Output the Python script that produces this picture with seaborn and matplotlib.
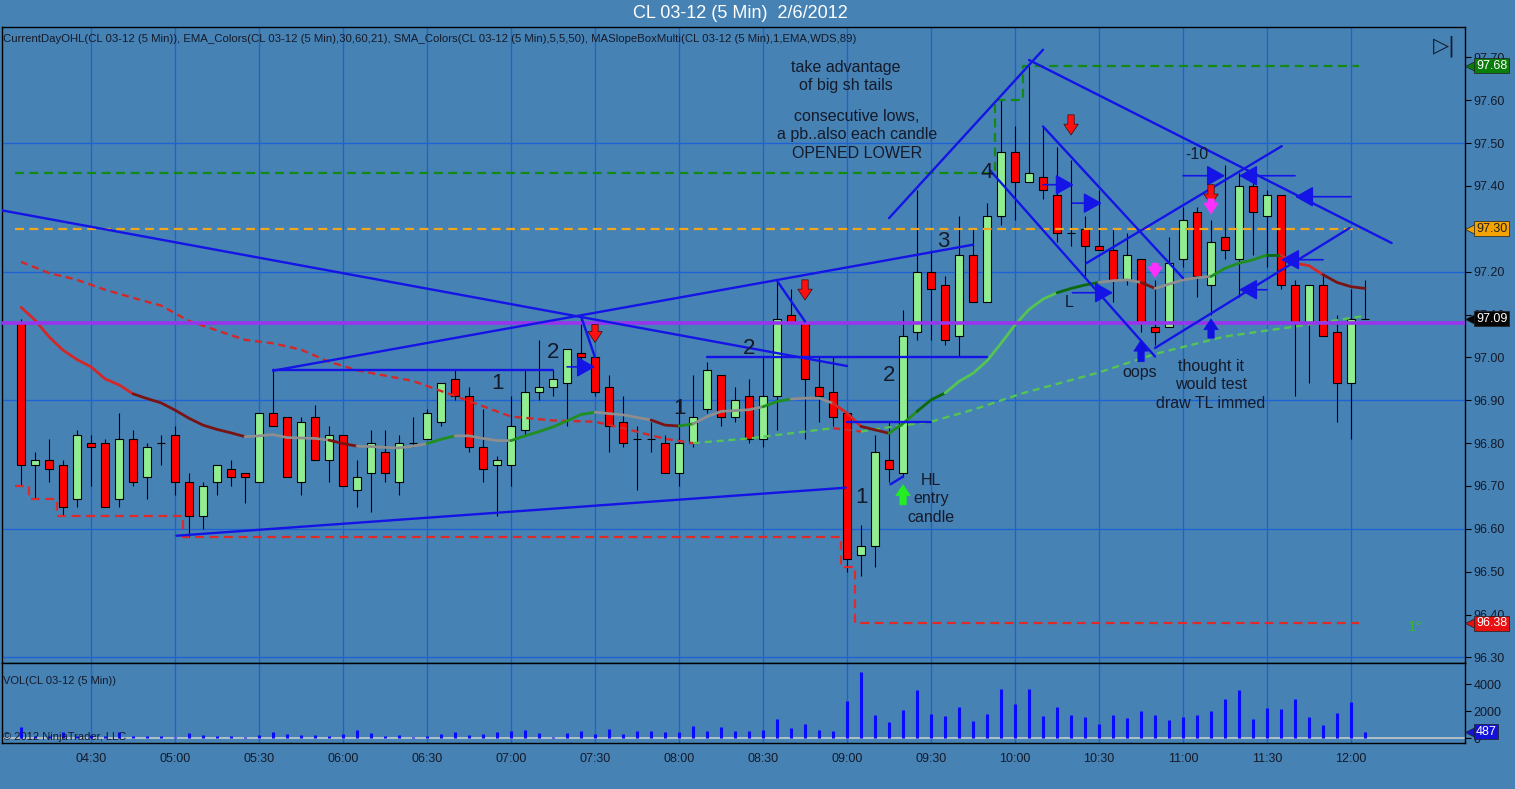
import numpy as np
import pandas as pd
import matplotlib
matplotlib.use('Agg')
import matplotlib.pyplot as plt
import matplotlib.transforms as mtransforms
import seaborn as sns

# CL 03-12, 5 minute bars on 2/6/2012, bar 0 = 04:05
opens = [97.08, 96.75, 96.76, 96.75, 96.67, 96.80, 96.80, 96.67, 96.81, 96.72,
         96.80, 96.82, 96.71, 96.63, 96.71, 96.74, 96.73, 96.71, 96.87, 96.86,
         96.71, 96.86, 96.76, 96.82, 96.69, 96.73, 96.78, 96.71, 96.80, 96.81,
         96.85, 96.95, 96.91, 96.79, 96.75, 96.75, 96.83, 96.92, 96.93, 96.94,
         97.01, 97.00, 96.93, 96.85, 96.81, 96.81, 96.80, 96.73, 96.80, 96.88,
         96.96, 96.86, 96.91, 96.81, 96.91, 97.10, 97.08, 96.93, 96.92, 96.87,
         96.54, 96.56, 96.76, 96.73, 97.06, 97.20, 97.17, 97.05, 97.24, 97.13,
         97.33, 97.48, 97.41, 97.42, 97.38, 97.29, 97.30, 97.26, 97.25, 97.18,
         97.23, 97.07, 97.07, 97.23, 97.34, 97.17, 97.28, 97.23, 97.40, 97.33,
         97.38, 97.17, 97.08, 97.17, 97.06, 96.94, 97.09]
highs = [97.09, 96.78, 96.81, 96.76, 96.83, 96.82, 96.81, 96.87, 96.83, 96.80,
         96.82, 96.84, 96.73, 96.71, 96.75, 96.76, 96.73, 96.87, 96.97, 96.86,
         96.86, 96.89, 96.84, 96.82, 96.76, 96.83, 96.83, 96.82, 96.86, 96.88,
         96.94, 96.97, 96.93, 96.88, 96.77, 96.91, 96.97, 97.04, 96.97, 97.02,
         97.10, 97.00, 96.96, 96.91, 96.84, 96.85, 96.82, 96.90, 96.96, 96.99,
         96.96, 96.93, 96.95, 97.00, 97.18, 97.16, 97.08, 97.00, 97.00, 96.87,
         96.61, 96.82, 96.85, 97.11, 97.39, 97.25, 97.19, 97.33, 97.30, 97.36,
         97.60, 97.54, 97.68, 97.54, 97.49, 97.46, 97.33, 97.39, 97.30, 97.29,
         97.23, 97.18, 97.28, 97.35, 97.35, 97.32, 97.45, 97.43, 97.42, 97.39,
         97.38, 97.18, 97.17, 97.19, 97.10, 97.16, 97.18]
lows = [96.70, 96.67, 96.71, 96.63, 96.65, 96.70, 96.65, 96.65, 96.70, 96.67,
        96.75, 96.68, 96.58, 96.60, 96.68, 96.70, 96.66, 96.71, 96.84, 96.72,
        96.68, 96.76, 96.71, 96.70, 96.65, 96.64, 96.71, 96.68, 96.79, 96.81,
        96.84, 96.90, 96.78, 96.71, 96.63, 96.70, 96.82, 96.90, 96.91, 96.84,
        96.97, 96.91, 96.78, 96.79, 96.69, 96.78, 96.73, 96.70, 96.79, 96.87,
        96.84, 96.85, 96.80, 96.79, 96.83, 97.08, 96.81, 96.85, 96.84, 96.50,
        96.49, 96.51, 96.71, 96.72, 97.04, 97.04, 97.03, 97.00, 97.13, 97.13,
        97.31, 97.32, 97.41, 97.37, 97.27, 97.26, 97.19, 97.25, 97.13, 97.17,
        97.06, 97.03, 97.07, 97.21, 97.14, 97.10, 97.23, 97.14, 97.24, 97.21,
        97.16, 96.91, 96.94, 97.05, 96.85, 96.81, 97.09]
closes = [96.75, 96.76, 96.74, 96.65, 96.82, 96.79, 96.65, 96.81, 96.71, 96.79,
          96.80, 96.71, 96.63, 96.70, 96.75, 96.72, 96.72, 96.87, 96.84, 96.72,
          96.85, 96.76, 96.82, 96.70, 96.72, 96.80, 96.73, 96.80, 96.80, 96.87,
          96.94, 96.91, 96.79, 96.74, 96.76, 96.84, 96.92, 96.93, 96.95, 97.02,
          97.00, 96.92, 96.84, 96.80, 96.81, 96.81, 96.73, 96.80, 96.86, 96.97,
          96.86, 96.90, 96.81, 96.91, 97.09, 97.08, 96.95, 96.91, 96.86, 96.53,
          96.56, 96.78, 96.74, 97.05, 97.20, 97.16, 97.04, 97.24, 97.13, 97.33,
          97.48, 97.41, 97.43, 97.39, 97.29, 97.29, 97.26, 97.25, 97.18, 97.24,
          97.08, 97.06, 97.22, 97.32, 97.19, 97.27, 97.25, 97.40, 97.34, 97.38,
          97.17, 97.08, 97.17, 97.05, 96.94, 97.09, 97.09]
volumes = [860, 150, 200, 450, 200, 250, 150, 440, 170, 170,
           170, 120, 400, 250, 170, 170, 100, 250, 440, 350,
           250, 250, 170, 300, 590, 420, 170, 250, 100, 150,
           350, 490, 250, 350, 490, 540, 640, 420, 100, 400,
           540, 300, 720, 350, 540, 540, 490, 490, 910, 560,
           840, 570, 570, 610, 1410, 780, 1050, 610, 540, 2760,
           4880, 1710, 1220, 2070, 3560, 1780, 1630, 2320, 1290, 1780,
           3630, 2510, 3630, 1630, 2320, 1710, 1560, 1050, 1710, 1510,
           2000, 1710, 1340, 1560, 1710, 2000, 2900, 3560, 1410, 2240,
           2150, 2900, 1560, 980, 1850, 2660, 487]

tick_bars = [5, 11, 17, 23, 29, 35, 41, 47, 53, 59, 65, 71, 77, 83, 89, 95]
tick_labels = ['04:30', '05:00', '05:30', '06:00', '06:30', '07:00', '07:30', '08:00',
               '08:30', '09:00', '09:30', '10:00', '10:30', '11:00', '11:30', '12:00']

# EMA (solid, slope coloured)
ema_vals = [97.117, 97.087, 97.048, 97.017, 96.995, 96.978, 96.950, 96.936, 96.915, 96.904,
            96.894, 96.877, 96.858, 96.842, 96.832, 96.824, 96.815, 96.817, 96.820, 96.813,
            96.812, 96.811, 96.807, 96.799, 96.793, 96.792, 96.790, 96.789, 96.793, 96.799,
            96.809, 96.817, 96.817, 96.811, 96.806, 96.806, 96.817, 96.827, 96.838, 96.852,
            96.867, 96.872, 96.869, 96.866, 96.860, 96.854, 96.842, 96.840, 96.845, 96.862,
            96.874, 96.876, 96.878, 96.885, 96.897, 96.903, 96.905, 96.905, 96.893, 96.870,
            96.839, 96.831, 96.823, 96.846, 96.874, 96.901, 96.917, 96.944, 96.963, 96.992,
            97.033, 97.076, 97.112, 97.136, 97.151, 97.161, 97.169, 97.175, 97.179, 97.181,
            97.175, 97.161, 97.171, 97.181, 97.186, 97.189, 97.208, 97.220, 97.228, 97.239,
            97.239, 97.220, 97.214, 97.193, 97.175, 97.165, 97.161]
ema_seg_start = [0, 8, 16, 22, 24, 29, 31, 35, 41, 45, 47, 48, 53, 55, 58, 60, 62, 64,
                 66, 74, 77, 80, 81, 85, 89, 90, 93]
ema_seg_color = ['red', 'dred', 'gray', 'dred', 'gray', 'green', 'gray', 'green', 'gray',
                 'dred', 'green', 'gray', 'green', 'gray', 'red', 'dred', 'green', 'dgreen',
                 'lgreen', 'dgreen', 'gray', 'dred', 'gray', 'green', 'dgreen', 'red', 'dred']

# SMA (dashed)
sma_bars = [0, 2, 4, 6, 8, 10, 12, 16, 18, 20, 22, 24, 28, 31, 35, 38, 41, 43, 46, 48,
            52, 55, 58, 60, 62, 65, 68, 71.5, 77, 81, 86, 91, 96]
sma_vals = [97.223, 97.197, 97.181, 97.158, 97.139, 97.121, 97.085, 97.041, 97.033, 97.018,
            96.990, 96.970, 96.945, 96.910, 96.862, 96.853, 96.850, 96.835, 96.810, 96.800,
            96.811, 96.823, 96.835, 96.827, 96.837, 96.850, 96.878, 96.916, 96.965, 97.008,
            97.049, 97.072, 97.097]
sma_seg_start = [0, 48, 58, 60]
sma_seg_color = ['red', 'lgreen', 'red', 'lgreen']

# current day open / high / low
day_open = 97.30
hod_levels = [97.43, 97.60, 97.68]
hod_start = [0, 70, 72]
lod_levels = [96.70, 96.67, 96.63, 96.58, 96.51, 96.38]
lod_start = [0, 1, 3, 12, 59, 60]
last_line = 97.08

# hand drawn trend lines (bar, price) -> (bar, price)
tl_x0 = [-1.5, 18, 18, 11.1, 40, 54, 49, 59, 62.1, 62, 69.2, 72, 73, 76.1, 81]
tl_p0 = [97.344, 96.969, 96.97, 96.584, 97.096, 97.179, 97.0, 96.85, 96.704, 97.325,
         97.437, 97.694, 97.539, 97.22, 97.022]
tl_x1 = [59, 68, 38, 58.9, 41, 56, 69, 65, 63, 73, 81, 97.9, 83, 90.05, 94.9]
tl_p1 = [96.98, 97.263, 96.97, 96.696, 97.0, 97.084, 97.0, 96.85, 96.722, 97.718,
         97.002, 97.267, 97.185, 97.493, 97.302]

# horizontal blue arrows: tail bar, head bar, price
ar_tail = [39, 73.0, 75.1, 75.1, 83.0, 91.0, 95.0, 93.0, 89.0]
ar_head = [41, 75.2, 77.2, 78.0, 86.0, 87.0, 91.0, 90.0, 87.0]
ar_price = [96.978, 97.403, 97.36, 97.151, 97.424, 97.424, 97.375, 97.228, 97.158]

# vertical marker arrows: bar, from price, to price, colour
mk_bar = [41, 56, 75, 85, 63, 81, 85, 80, 85]
mk_from = [97.077, 97.181, 97.566, 97.403, 96.656, 97.22, 97.37, 96.99, 97.045]
mk_to = [97.035, 97.134, 97.519, 97.356, 96.703, 97.186, 97.335, 97.04, 97.09]
mk_color = ['#ff1010', '#ff1010', '#ff1010', '#ff1010', '#22ee22', '#ff30ff', '#ff30ff',
            '#1010e0', '#1010e0']

BG = '#4682b4'
GRID = '#1d62d4'
BLUE = '#1414e6'
TXT = '#141a2a'
COLORS = {'red': '#d42828', 'dred': '#7a1414', 'gray': '#8e8e8e', 'green': '#1f8f1f',
          'dgreen': '#0b6a0b', 'lgreen': '#55c455'}

sns.set_theme(style='white', rc={'axes.facecolor': BG, 'figure.facecolor': BG,
                                 'axes.edgecolor': 'black', 'axes.linewidth': 1.0})
plt.rcParams['font.family'] = ['Liberation Sans', 'DejaVu Sans']

W, H = 1515, 789
fig = plt.figure(figsize=(W / 100, H / 100), dpi=100)
ax = fig.add_axes([2 / W, 1 - 663 / H, 1463 / W, 636 / H])
axv = fig.add_axes([2 / W, 1 - 743 / H, 1463 / W, 80 / H], sharex=ax)

bars = np.arange(len(opens))
o = np.array(opens); c = np.array(closes)
hi = np.array(highs); lo = np.array(lows)

# grid
for tb in tick_bars:
    ax.axvline(tb, color=GRID, lw=0.9, zorder=0)
    axv.axvline(tb, color=GRID, lw=0.9, zorder=0)
for gp in [96.30, 96.60, 96.90, 97.20, 97.50]:
    ax.axhline(gp, color=GRID, lw=0.9, zorder=0)

# current day OHL
ax.plot([-0.45, 95.6], [day_open, day_open], color='#f2a61c', lw=1.6,
        ls=(0, (4, 2.5)), zorder=3)
for levels, starts, col in [(hod_levels, hod_start, '#138a13'),
                            (lod_levels, lod_start, '#e02a2a')]:
    xs = [s - 0.45 for s in starts] + [95.6]
    ys = list(levels) + [levels[-1]]
    ax.plot(xs, ys, drawstyle='steps-post', color=col, lw=1.6, ls=(0, (4, 2.5)), zorder=3)

# candles
up = c >= o
ax.vlines(bars, lo, hi, color='black', lw=0.8, zorder=2)
ax.bar(bars, np.maximum(np.abs(c - o), 0.0005), bottom=np.minimum(o, c), width=0.6,
       color=np.where(up, '#90ee90', '#ff0000'), edgecolor='black', linewidth=0.8, zorder=2.5)


def seg_frame(xs, ys, starts, cols):
    rows = []
    xs = list(xs)
    for k, s in enumerate(starts):
        e = starts[k + 1] if k + 1 < len(starts) else xs[-1]
        for x, y in zip(xs, ys):
            if s <= x <= e:
                rows.append({'bar': x, 'value': y, 'seg': f's{k}'})
    pal = {f's{k}': COLORS[col] for k, col in enumerate(cols)}
    return pd.DataFrame(rows), pal


df_sma, pal_sma = seg_frame(sma_bars, sma_vals, sma_seg_start, sma_seg_color)
sns.lineplot(data=df_sma, x='bar', y='value', hue='seg', palette=pal_sma, legend=False,
             errorbar=None, ax=ax, lw=1.7, linestyle=(0, (3, 2)), zorder=3)
df_ema, pal_ema = seg_frame(bars, ema_vals, ema_seg_start, ema_seg_color)
sns.lineplot(data=df_ema, x='bar', y='value', hue='seg', palette=pal_ema, legend=False,
             errorbar=None, ax=ax, lw=2.0, zorder=3)

ax.axhline(last_line, color='#9933ee', lw=2.6, zorder=4)

# trend lines and arrows
for x0, p0, x1, p1 in zip(tl_x0, tl_p0, tl_x1, tl_p1):
    ax.plot([x0, x1], [p0, p1], color=BLUE, lw=1.7, zorder=5, solid_capstyle='round')
for xt, xh, pp in zip(ar_tail, ar_head, ar_price):
    ax.annotate('', xy=(xh, pp), xytext=(xt, pp), zorder=5,
                arrowprops=dict(arrowstyle='-|>,head_length=0.8,head_width=0.45',
                                color=BLUE, lw=1.2, mutation_scale=14, shrinkA=0, shrinkB=0))
for b, pf, pt, col in zip(mk_bar, mk_from, mk_to, mk_color):
    ax.annotate('', xy=(b, pt), xytext=(b, pf), zorder=6,
                arrowprops=dict(arrowstyle='simple,head_length=0.6,head_width=0.8,tail_width=0.35',
                                fc=col, ec='#3a0a0a' if col == '#ff1010' else col, lw=0.5,
                                mutation_scale=13, shrinkA=0, shrinkB=0))

# annotations
notes = [(58.9, 97.655, 'take advantage\nof big sh tails'),
         (59.7, 97.519, 'consecutive lows,\na pb..also each candle\nOPENED LOWER'),
         (65.0, 96.67, 'HL\nentry\ncandle'),
         (79.9, 96.965, 'oops'),
         (85.0, 96.936, 'thought it\nwould test\ndraw TL immed'),
         (84.0, 97.473, '-10'),
         (74.9, 97.128, 'L')]
for x, p, t in notes:
    ax.text(x, p, t, ha='center', va='center', fontsize=11.5, color=TXT, linespacing=1.28,
            zorder=6)
digits = [(34, 96.939, '1'), (38, 97.011, '2'), (52, 97.022, '2'), (47, 96.882, '1'),
          (62, 96.957, '2'), (60, 96.673, '1'), (65.9, 97.270, '3'), (69, 97.431, '4')]
for x, p, t in digits:
    ax.text(x, p, t, ha='center', va='center', fontsize=16, color=TXT, zorder=6)
ax.text(99.6, 96.371, '1°', ha='center', va='center', fontsize=11, color='#39b539')
ax.text(101.7, 97.725, '▷|', ha='center', va='center', fontsize=15, color=TXT,
        family=['DejaVu Sans'])
ax.text(0.001, 0.981, 'CurrentDayOHL(CL 03-12 (5 Min)), EMA_Colors(CL 03-12 (5 Min),30,60,21), '
        'SMA_Colors(CL 03-12 (5 Min),5,5,50), MASlopeBoxMulti(CL 03-12 (5 Min),1,EMA,WDS,89)',
        transform=ax.transAxes, ha='left', va='center', fontsize=8.2, color=TXT)

# volume
axv.vlines(bars, 0, volumes, color='#0a0aff', lw=2.2, zorder=2)
axv.axhline(0, color='#cfcfcf', lw=1.1, zorder=1)
axv.text(0.001, 0.775, 'VOL(CL 03-12 (5 Min))', transform=axv.transAxes, ha='left',
         va='center', fontsize=8, color=TXT)
axv.text(0.001, 0.075, '© 2012 NinjaTrader, LLC', transform=axv.transAxes, ha='left',
         va='center', fontsize=8, color=TXT)

# axes
ax.set_xlim(-1.36, 103.14)
ax.set_ylim(96.287, 97.771)
axv.set_ylim(-350, 5578)
for a in (ax, axv):
    a.yaxis.tick_right()
    a.tick_params(axis='y', direction='out', length=4, width=0.8, colors='black',
                  labelcolor=TXT, labelsize=9, pad=2)
    a.set_xlabel('')
    a.set_ylabel('')
    for s in a.spines.values():
        s.set_color('black')
ax.set_yticks(np.round(np.arange(96.30, 97.71, 0.10), 2))
ax.set_yticklabels([f'{v:.2f}' for v in np.arange(96.30, 97.71, 0.10)])
ax.tick_params(axis='x', labelbottom=False, length=0)
axv.set_yticks([0, 2000, 4000])
axv.set_xticks(tick_bars)
axv.set_xticklabels(tick_labels)
axv.tick_params(axis='x', length=0, labelsize=9, labelcolor=TXT, pad=7)


def tag(a, value, text, bg, fg):
    tr = mtransforms.blended_transform_factory(a.transAxes, a.transData)
    a.plot([1.0035], [value], marker='<', ms=7.5, color=bg, mec='#202020', mew=0.5,
           transform=tr, clip_on=False, zorder=9)
    a.text(1.0075, value, text, transform=tr, ha='left', va='center', fontsize=9, color=fg,
           bbox=dict(boxstyle='square,pad=0.12', fc=bg, ec='#202020', lw=0.5),
           clip_on=False, zorder=10)


tag(ax, 97.68, '97.68', '#0b7d0b', 'white')
tag(ax, 97.30, '97.30', '#f5a300', '#202020')
tag(ax, 97.09, '97.09', '#050505', 'white')
tag(ax, 96.38, '96.38', '#e81010', 'white')
tag(axv, 487, '487', '#1212d8', 'white')

fig.text(740 / W, 1 - 13 / H, 'CL 03-12 (5 Min)  2/6/2012', ha='center', va='center',
         fontsize=13, color='white')

fig.savefig('out.png', dpi=100, facecolor=BG)
